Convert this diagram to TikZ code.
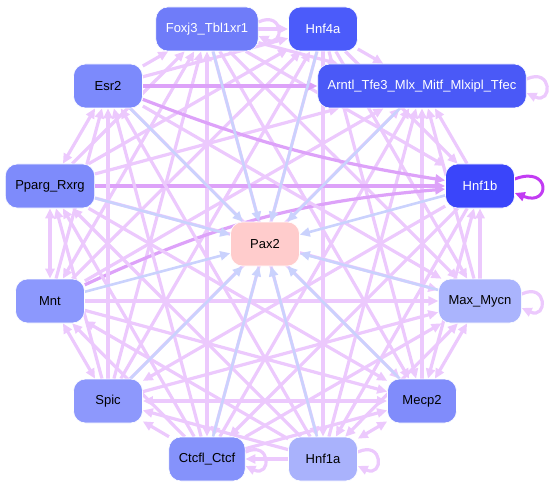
\documentclass[tikz,border=0pt]{standalone}
\usepackage{fontspec}
\setmainfont{Liberation Sans}
\usetikzlibrary{arrows.meta,backgrounds}

\definecolor{linkpink}{HTML}{ECC9FD}
\definecolor{linkdark}{HTML}{DDA2F9}
\definecolor{linkblue}{HTML}{CAD2FD}
\definecolor{loopmag}{HTML}{C23CF3}
\definecolor{cFoxj}{HTML}{6F7CF9}
\definecolor{cHnfFa}{HTML}{4B5BFA}
\definecolor{cArntl}{HTML}{4A59F7}
\definecolor{cEsr}{HTML}{7C8AFC}
\definecolor{cHnfOb}{HTML}{3A45FA}
\definecolor{cPparg}{HTML}{7E8BFB}
\definecolor{cPax}{HTML}{FFCCCC}
\definecolor{cMnt}{HTML}{8C98FD}
\definecolor{cMax}{HTML}{AAB4FD}
\definecolor{cSpic}{HTML}{8D98FC}
\definecolor{cMecp}{HTML}{808CFB}
\definecolor{cCtcf}{HTML}{8592FB}
\definecolor{cHnfOa}{HTML}{A9B2FC}

\tikzset{
  gene/.style={rounded corners=12pt, minimum width=69pt, minimum height=44pt,
    inner xsep=10pt, font=\fontsize{13}{15}\selectfont, draw=white, line width=0.6pt},
  link/.style={linkpink, line width=3.2pt, -{Triangle[length=10pt,width=9pt]}},
  twoway/.style={link, {Triangle[length=10pt,width=9pt]}-{Triangle[length=10pt,width=9pt]}},
  strong/.style={link, linkdark},
  topax/.style={linkblue, line width=2.6pt, -{Triangle[length=10pt,width=9pt]}},
}

\begin{document}
\begin{tikzpicture}[x=1pt,y=-1pt]
  \useasboundingbox (0,0) rectangle (559,489);
  %Genes
  \node[gene, fill=cPax] (pax2) at (265,244) {Pax2};
  \node[gene, fill=cFoxj, text=white] (foxj3) at (207,29) {Foxj3\_Tbl1xr1};
  \node[gene, fill=cHnfFa, text=white] (hnf4a) at (323,29) {Hnf4a};
  \node[gene, fill=cArntl, text=white] (arntl) at (422,86) {Arntl\_Tfe3\_Mlx\_Mitf\_Mlxipl\_Tfec};
  \node[gene, fill=cEsr] (esr2) at (108,86) {Esr2};
  \node[gene, fill=cHnfOb, text=white] (hnf1b) at (480,186) {Hnf1b};
  \node[gene, fill=cPparg] (pparg) at (50,186) {Pparg\_Rxrg};
  \node[gene, fill=cMnt] (mnt) at (50,301) {Mnt};
  \node[gene, fill=cMax] (maxmycn) at (480,301) {Max\_Mycn};
  \node[gene, fill=cSpic] (spic) at (108,401) {Spic};
  \node[gene, fill=cMecp] (mecp2) at (422,401) {Mecp2};
  \node[gene, fill=cCtcf] (ctcf) at (207,459) {Ctcfl\_Ctcf};
  \node[gene, fill=cHnfOa] (hnf1a) at (323,459) {Hnf1a};

  \begin{scope}[on background layer]
  %Foxj3_Tbl1xr1
  \draw[link] (foxj3) -- (hnf4a);
  \draw[link] ([yshift=7pt]foxj3.east) .. controls +(26,-12) and +(26,12) .. ([yshift=-7pt]foxj3.east);
  \draw[link] (esr2) -- (foxj3);
  \draw[link] (foxj3) -- (arntl);
  \draw[link] (foxj3) -- (hnf1b);
  \draw[link] (foxj3) -- (maxmycn);
  \draw[link] (foxj3) -- (mecp2);
  \draw[link] (foxj3) -- (hnf1a);
  \draw[twoway] (ctcf) -- (foxj3);
  \draw[link] (spic) -- (foxj3);
  \draw[twoway] (mnt) -- (foxj3);
  \draw[link] (pparg) -- (foxj3);
  %Hnf4a
  \draw[link] (hnf4a) -- (arntl);
  \draw[link] (hnf4a) -- (hnf1b);
  \draw[link] (hnf4a) -- (maxmycn);
  \draw[link] (hnf4a) -- (mecp2);
  \draw[link] (hnf4a) -- (hnf1a);
  \draw[link] (hnf4a) -- (ctcf);
  \draw[link] (spic) -- (hnf4a);
  \draw[link] (mnt) -- (hnf4a);
  \draw[link] (pparg) -- (hnf4a);
  \draw[link] (esr2) -- (hnf4a);
  %Arntl_Tfe3_Mlx_Mitf_Mlxipl_Tfec
  \draw[link] ([yshift=7pt]arntl.east) .. controls +(26,-12) and +(26,12) .. ([yshift=-7pt]arntl.east);
  \draw[link] (hnf1b) -- (arntl);
  \draw[link] (maxmycn) -- (arntl);
  \draw[link] (mecp2) -- (arntl);
  \draw[link] (hnf1a) -- (arntl);
  \draw[link] (ctcf) -- (arntl);
  \draw[link] (spic) -- (arntl);
  \draw[link] (mnt) -- (arntl);
  \draw[link] (pparg) -- (arntl);
  \draw[strong, line width=4pt] (esr2) -- (arntl);
  %Hnf1b
  \draw[link] (maxmycn) -- (hnf1b);
  \draw[twoway] (hnf1b) -- (mecp2);
  \draw[link] (hnf1b) -- (hnf1a);
  \draw[link] (hnf1b) -- (ctcf);
  \draw[link] (hnf1b) -- (spic);
  \draw[strong] (mnt) to[bend left=10] (hnf1b);
  \draw[strong] (pparg) -- (hnf1b);
  \draw[strong] (esr2) to[bend right=6] (hnf1b);
  %Max_Mycn
  \draw[link] ([yshift=7pt]maxmycn.east) .. controls +(26,-12) and +(26,12) .. ([yshift=-7pt]maxmycn.east);
  \draw[twoway] (maxmycn) -- (mecp2);
  \draw[twoway] (maxmycn) -- (hnf1a);
  \draw[link] (ctcf) -- (maxmycn);
  \draw[link] (spic) -- (maxmycn);
  \draw[link] (mnt) -- (maxmycn);
  \draw[link] (pparg) -- (maxmycn);
  \draw[link] (esr2) -- (maxmycn);
  %Mecp2
  \draw[twoway] (mecp2) -- (hnf1a);
  \draw[link] (ctcf) -- (mecp2);
  \draw[twoway] (spic) -- (mecp2);
  \draw[link] (mnt) -- (mecp2);
  \draw[link] (pparg) -- (mecp2);
  \draw[link] (esr2) -- (mecp2);
  %Hnf1a
  \draw[link] ([yshift=7pt]hnf1a.east) .. controls +(26,-12) and +(26,12) .. ([yshift=-7pt]hnf1a.east);
  \draw[link] (hnf1a) -- (ctcf);
  \draw[link] (hnf1a) -- (spic);
  \draw[link] (hnf1a) -- (mnt);
  \draw[link] (hnf1a) -- (pparg);
  \draw[link] (hnf1a) -- (esr2);
  %Ctcfl_Ctcf
  \draw[link] ([yshift=7pt]ctcf.east) .. controls +(26,-12) and +(26,12) .. ([yshift=-7pt]ctcf.east);
  \draw[link] (ctcf) -- (spic);
  \draw[link] (ctcf) -- (mnt);
  \draw[link] (ctcf) -- (pparg);
  \draw[link] (ctcf) -- (esr2);
  %Spic, Mnt, Pparg_Rxrg
  \draw[twoway] (spic) -- (mnt);
  \draw[link] (spic) -- (pparg);
  \draw[link] (spic) -- (esr2);
  \draw[twoway] (mnt) -- (pparg);
  \draw[link] (mnt) -- (esr2);
  \draw[twoway] (pparg) -- (esr2);

  %Targets of Pax2
  \draw[topax] (foxj3) -- (pax2);
  \draw[topax] (hnf4a) -- (pax2);
  \draw[topax] (arntl) -- (pax2);
  \draw[topax] (hnf1b) -- (pax2);
  \draw[topax] (maxmycn) -- (pax2);
  \draw[topax] (mecp2) -- (pax2);
  \draw[topax] (hnf1a) -- (pax2);
  \draw[topax] (ctcf) -- (pax2);
  \draw[topax] (spic) -- (pax2);
  \draw[topax] (mnt) -- (pax2);
  \draw[topax] (pparg) -- (pax2);
  \draw[topax] (esr2) -- (pax2);

  %Hnf1b self loop
  \draw[link, loopmag, line width=3pt] ([yshift=7pt]hnf1b.east) .. controls +(36,-14) and +(36,14) .. ([yshift=-7pt]hnf1b.east);
  \end{scope}
\end{tikzpicture}
\end{document}
